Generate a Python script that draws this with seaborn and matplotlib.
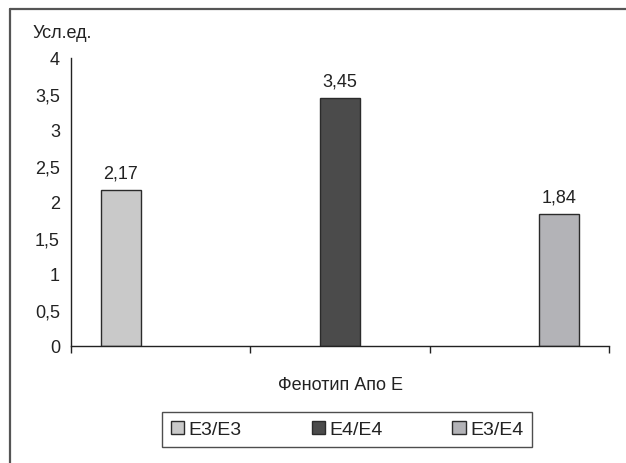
import matplotlib
matplotlib.use("Agg")
import matplotlib.pyplot as plt
from matplotlib import font_manager
from matplotlib.lines import Line2D
import pandas as pd
import seaborn as sns

# Values
phenotypes = ["E3/E3", "E4/E4", "E3/E4"]
values = [2.17, 3.45, 1.84]
bar_colors = ["#c9c9c9", "#4b4b4b", "#b3b3b7"]
y_ticks = [0, 0.5, 1, 1.5, 2, 2.5, 3, 3.5, 4]
y_unit = "Усл.ед."
x_title = "Фенотип Апо E"

sns.set_theme(style="white")
installed = {f.name for f in font_manager.fontManager.ttflist}
family = [f for f in ["Liberation Sans Narrow", "Liberation Sans", "DejaVu Sans"] if f in installed]
plt.rcParams["font.family"] = family
plt.rcParams["text.color"] = "#222222"

def comma(v):
    s = f"{v:g}" if float(v) != int(v) else str(int(v))
    return s.replace(".", ",")

df = pd.DataFrame({"phenotype": phenotypes, "value": values})

fig = plt.figure(figsize=(6.26, 4.64), dpi=100)
ax = fig.add_axes([71 / 626, 1 - 347 / 464, (609 - 71) / 626, (347 - 59) / 464])

sns.barplot(data=df, x="phenotype", y="value", hue="phenotype", dodge=True,
            width=2 / 3, palette=bar_colors, edgecolor="#2b2b2b", linewidth=1.0,
            saturation=1, legend=False, ax=ax)

for cont in ax.containers:
    ax.bar_label(cont, labels=[comma(b.get_height()) for b in cont],
                 padding=6, fontsize=13, color="#222222")

ax.set_ylim(0, 4)
ax.set_yticks(y_ticks)
ax.set_yticklabels([comma(t) for t in y_ticks], fontsize=13, color="#222222")
ax.set_xlim(-0.5, len(phenotypes) - 0.5)
ax.set_xticks([i - 0.5 for i in range(len(phenotypes) + 1)])
ax.set_xticklabels([])
ax.tick_params(axis="both", direction="out", length=5, width=1, color="#222222")
ax.tick_params(axis="y", pad=3)
ax.tick_params(axis="x", bottom=True)
for side in ["top", "right"]:
    ax.spines[side].set_visible(False)
for side in ["left", "bottom"]:
    ax.spines[side].set_color("#222222")
    ax.spines[side].set_linewidth(1.0)
ax.set_ylabel("")
ax.set_xlabel(x_title, fontsize=13, labelpad=13, color="#222222")

fig.text(33 / 626, 1 - 33 / 464, y_unit, fontsize=13, ha="left", va="center",
         color="#222222")

handles = [plt.Rectangle((0, 0), 1, 1, facecolor=c, edgecolor="#2b2b2b", linewidth=1.0)
           for c in bar_colors]
leg = fig.legend(handles, phenotypes, loc="center", ncol=3,
                 bbox_to_anchor=(347 / 626, 1 - 430.5 / 464),
                 fontsize=14, frameon=True, fancybox=False, edgecolor="#222222",
                 handlelength=0.7, handleheight=0.7, handletextpad=0.2,
                 columnspacing=3.6, borderpad=0.45, borderaxespad=0)
leg.get_frame().set_linewidth(1.0)

# Outer frame lines (top and left)
fig.add_artist(Line2D([10 / 626, 1], [1 - 10 / 464, 1 - 10 / 464],
                      transform=fig.transFigure, color="#555555", linewidth=1.6))
fig.add_artist(Line2D([10 / 626, 10 / 626], [0, 1 - 10 / 464],
                      transform=fig.transFigure, color="#555555", linewidth=1.6))

fig.savefig("out.png", dpi=100)
